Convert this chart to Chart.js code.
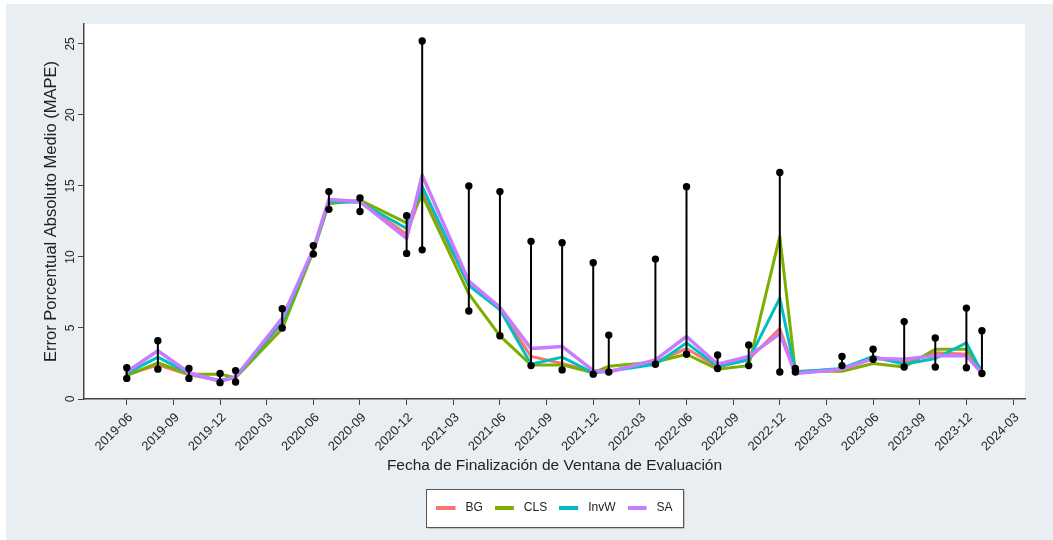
<!DOCTYPE html>
<html>
<head>
<meta charset="utf-8">
<script src="https://cdn.jsdelivr.net/npm/chart.js@4.4.1/dist/chart.umd.min.js"></script>
<style>
  html, body { margin: 0; padding: 0; background: #fff; }
</style>
</head>
<body>
<canvas id="mape" width="1053" height="540"></canvas>
<script>
// end month of each evaluation window
const fechas = ['2019-06', '2019-08', '2019-10', '2019-12', '2020-01', '2020-04', '2020-06', '2020-07',
  '2020-09', '2020-12', '2021-01', '2021-04', '2021-06', '2021-08', '2021-10', '2021-12', '2022-01',
  '2022-04', '2022-06', '2022-08', '2022-10', '2022-12', '2023-01', '2023-04', '2023-06', '2023-08',
  '2023-10', '2023-12', '2024-01'];

// spread of the individual forecasts (max / min MAPE)
const rangoMax = [2.2, 4.1, 2.15, 1.8, 2.0, 6.35, 10.8, 14.6, 14.15, 12.9, 25.2, 15.0, 14.6, 11.1, 11.0,
  9.6, 4.5, 9.85, 14.95, 3.1, 3.8, 15.95, 2.15, 3.0, 3.5, 5.45, 4.3, 6.4, 4.8];
const rangoMin = [1.45, 2.1, 1.45, 1.15, 1.2, 5.0, 10.2, 13.35, 13.2, 10.25, 10.5, 6.2, 4.45, 2.35, 2.05,
  1.75, 1.9, 2.45, 3.15, 2.15, 2.35, 1.9, 1.9, 2.35, 2.8, 2.25, 2.25, 2.2, 1.8];

// combination methods
const bg = [1.7, 2.4, 1.7, 1.3, 1.55, 5.3, 10.45, 13.85, 13.9, 11.6, 14.6, 8.0, 6.3, 3.0, 2.5, 1.9, 1.95,
  2.6, 3.55, 2.25, 2.8, 4.95, 1.9, 2.1, 2.9, 2.55, 3.25, 3.15, 1.85];
const cls = [1.65, 2.55, 1.75, 1.75, 1.5, 4.95, 10.4, 13.75, 14.0, 12.4, 14.35, 7.4, 4.45, 2.4, 2.4, 1.85,
  2.3, 2.6, 3.15, 2.1, 2.35, 11.45, 1.95, 1.95, 2.5, 2.25, 3.5, 3.5, 2.0];
const invw = [1.8, 2.95, 1.8, 1.3, 1.55, 5.45, 10.5, 13.9, 13.85, 12.0, 14.95, 8.0, 6.3, 2.45, 2.95, 1.85,
  1.95, 2.45, 3.95, 2.3, 2.75, 7.1, 1.9, 2.15, 3.0, 2.45, 2.85, 3.95, 1.85];
const sa = [1.9, 3.4, 1.85, 1.25, 1.55, 5.7, 10.55, 14.05, 13.9, 11.3, 15.75, 8.3, 6.45, 3.55, 3.7, 2.0,
  1.9, 2.75, 4.4, 2.45, 3.0, 4.6, 1.8, 2.1, 2.85, 2.8, 3.05, 3.05, 1.8];

const etiquetasX = ['2019-06', '2019-09', '2019-12', '2020-03', '2020-06', '2020-09', '2020-12', '2021-03',
  '2021-06', '2021-09', '2021-12', '2022-03', '2022-06', '2022-09', '2022-12', '2023-03', '2023-06',
  '2023-09', '2023-12', '2024-03'];
const ticksY = [0, 5, 10, 15, 20, 25];

// months counted from 2019-03
const mes = s => {
  const [a, m] = s.split('-').map(Number);
  return (a - 2019) * 12 + m - 3;
};
const serie = vals => fechas.map((f, i) => ({ x: mes(f), y: vals[i] }));

const FUENTE = '"Liberation Sans", Arial, Helvetica, sans-serif';
const TEXTO = '#222';
const EJE = '#444';
const LEYENDA = { size: 12, padding: 12 };
Chart.defaults.font.family = FUENTE;
Chart.defaults.color = TEXTO;

// legend key: short thick bar with some room before the text
const clave = color => {
  const c = document.createElement('canvas');
  c.width = 23;
  c.height = 4;
  const g = c.getContext('2d');
  g.fillStyle = color;
  g.fillRect(0, 0, 19, 4);
  return c;
};

const linea = (label, vals, color, order, width) => ({
  label,
  data: serie(vals),
  borderColor: color,
  backgroundColor: color,
  borderWidth: width,
  borderJoinStyle: 'round',
  borderCapStyle: 'round',
  pointRadius: 0,
  pointStyle: clave(color),
  tension: 0,
  order
});

// vertical min-max segments, split by empty points
const rango = fechas.flatMap((f, i) => [
  { x: mes(f), y: rangoMax[i] },
  { x: mes(f), y: rangoMin[i] },
  { x: mes(f), y: null }
]);

const fondo = {
  id: 'fondo',
  // legend sits centred under the plot region
  afterUpdate(chart) {
    const lg = chart.legend, a = chart.chartArea;
    const dx = (a.left + a.right) / 2 - (lg.left + lg.right) / 2;
    lg.left += dx;
    lg.right += dx;
  },
  beforeDraw(chart) {
    const { ctx, chartArea: a, legend: lg } = chart;
    ctx.save();
    ctx.fillStyle = '#fff';
    ctx.fillRect(0, 0, chart.width, chart.height);
    ctx.fillStyle = '#e8eef2';
    ctx.fillRect(6, 4, chart.width - 6, chart.height - 4);
    ctx.fillStyle = '#fff';
    ctx.fillRect(a.left, a.top, a.right - a.left, a.bottom - a.top);

    // frame around the legend items
    const p = LEYENDA.padding;
    const fila = lg.lineWidths[0];
    const inicio = (lg.left + p + lg.right - fila) / 2;
    const x0 = Math.round(inicio - 10), x1 = Math.round(inicio + fila - p + 10);
    const cy = lg.top + p + LEYENDA.size / 2;
    const y0 = Math.round(cy - 19.5), y1 = Math.round(cy + 19);
    ctx.fillStyle = '#9aa0a4';
    ctx.fillRect(x0 + 1.5, y0 + 1.5, x1 - x0, y1 - y0);
    ctx.fillStyle = '#fff';
    ctx.fillRect(x0, y0, x1 - x0, y1 - y0);
    ctx.strokeStyle = '#555';
    ctx.lineWidth = 1;
    ctx.strokeRect(x0 + 0.5, y0 + 0.5, x1 - x0, y1 - y0);
    ctx.restore();
  },
  // y tick labels, written vertically
  afterDraw(chart) {
    const { ctx } = chart;
    const y = chart.scales.y;
    ctx.save();
    ctx.fillStyle = TEXTO;
    ctx.font = '12px ' + FUENTE;
    ctx.textAlign = 'center';
    ctx.textBaseline = 'middle';
    y.ticks.forEach(t => {
      ctx.save();
      ctx.translate(70.5, y.getPixelForValue(t.value));
      ctx.rotate(-Math.PI / 2);
      ctx.fillText(String(t.value), 0, 0);
      ctx.restore();
    });
    ctx.restore();
  }
};

new Chart(document.getElementById('mape'), {
  type: 'line',
  data: {
    datasets: [
      linea('BG', bg, '#F8766D', 4, 3),
      linea('CLS', cls, '#7CAE00', 3, 3),
      linea('InvW', invw, '#00BFC4', 2, 3),
      linea('SA', sa, '#C77CFF', 1, 3.5),
      {
        label: 'rango',
        data: rango,
        borderColor: '#000',
        borderWidth: 2,
        pointRadius: 3.7,
        pointBackgroundColor: '#000',
        pointBorderWidth: 0,
        spanGaps: false,
        order: 0
      }
    ]
  },
  options: {
    responsive: false,
    animation: false,
    events: [],
    layout: { padding: { left: 0, right: 28, top: 24, bottom: 16 } },
    scales: {
      x: {
        type: 'linear',
        min: 0.25,
        max: 60.77,
        afterBuildTicks: s => { s.ticks = etiquetasX.map(e => ({ value: mes(e) })); },
        afterFit: s => { s.height = 91; },
        ticks: {
          autoSkip: false,
          minRotation: 45,
          maxRotation: 45,
          padding: 5,
          labelOffset: 4,
          font: { size: 12.8 },
          callback: v => etiquetasX.find(e => mes(e) === v)
        },
        grid: { drawOnChartArea: false, drawTicks: true, tickLength: 6, color: EJE },
        border: { display: true, color: EJE, width: 1.5 },
        title: {
          display: true,
          text: 'Fecha de Finalización de Ventana de Evaluación',
          font: { size: 15.5 },
          padding: { top: 0, bottom: 14.7 }
        }
      },
      y: {
        min: 0,
        max: 26.4,
        afterBuildTicks: s => { s.ticks = ticksY.map(v => ({ value: v })); },
        afterFit: s => { s.width = 84; },
        ticks: { display: false },
        grid: { drawOnChartArea: false, drawTicks: true, tickLength: 6, color: EJE },
        border: { display: true, color: EJE, width: 1.5 },
        title: {
          display: true,
          text: 'Error Porcentual Absoluto Medio (MAPE)',
          font: { size: 16.5 },
          padding: { top: 41.6, bottom: 0 }
        }
      }
    },
    plugins: {
      tooltip: { enabled: false },
      legend: {
        position: 'bottom',
        labels: {
          usePointStyle: true,
          pointStyleWidth: 23,
          boxHeight: 4,
          padding: LEYENDA.padding,
          font: { size: LEYENDA.size },
          color: TEXTO,
          generateLabels: chart => Chart.defaults.plugins.legend.labels.generateLabels(chart)
            .filter(it => it.text !== 'rango')
            .sort((p, q) => p.datasetIndex - q.datasetIndex)
            .map(it => ({ ...it, lineWidth: 0 }))
        }
      }
    }
  },
  plugins: [fondo]
});
</script>
</body>
</html>
